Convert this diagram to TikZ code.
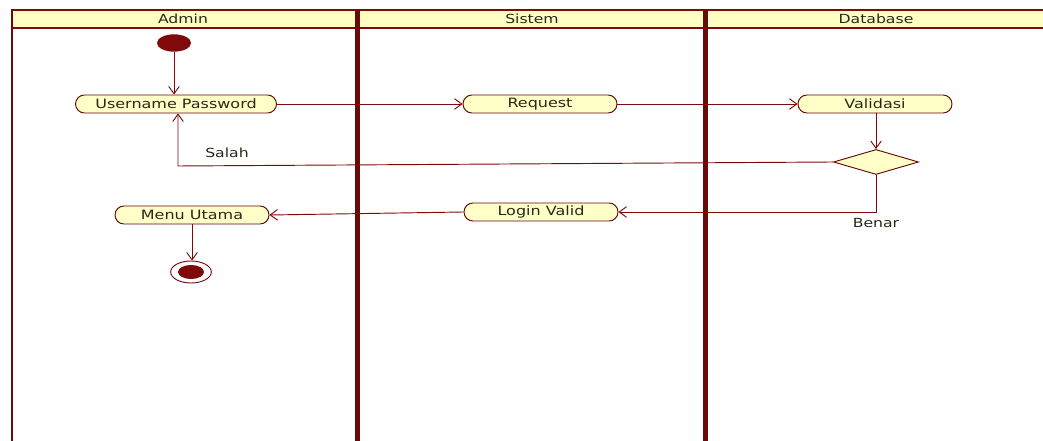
\documentclass[tikz,border=0pt]{standalone}
\usepackage{fontspec}
\newfontfamily\umlfont[FakeStretch=1.25]{DejaVu Sans}
\usetikzlibrary{shapes.misc,shapes.geometric,arrows.meta}
\definecolor{umlred}{RGB}{128,10,10}
\definecolor{sepred}{RGB}{105,10,10}
\definecolor{umlfill}{RGB}{255,255,200}
\definecolor{hdrfill}{RGB}{255,255,196}
\definecolor{umltext}{RGB}{40,40,25}
\begin{document}
\begin{tikzpicture}[x=0.75pt,y=-0.75pt,
  act/.style={rounded rectangle, draw=umlred!80!black, fill=umlfill, line width=0.7pt,
    minimum height=13.5pt, minimum width=115.5pt, inner sep=0pt, text=umltext,
    font=\umlfont\fontsize{9.6}{10}\selectfont},
  lbl/.style={font=\umlfont\fontsize{9.4}{10}\selectfont, inner sep=0pt, text=umltext},
  flow/.style={draw=umlred, line width=0.7pt, -{Straight Barb[length=5.5pt,width=8pt]}},
]
\useasboundingbox (0,0) rectangle (1043,441);
\clip (0,0) rectangle (1043,441);
\fill[white] (0,0) rectangle (1043,441);
% header
\draw[fill=hdrfill, draw=umlred, line width=1.2pt] (12,10) rectangle (1060,28);
\node[lbl] (hA) at (183,19) {Admin};
\node[lbl] (hS) at (532,19) {Sistem};
\node[lbl] (hD) at (876,19) {Database};
% swimlane borders
\draw[sepred, line width=1.5pt] (12,10) -- (12,441);
\draw[sepred, line width=3.75pt] (357,10) -- (357,441);
\draw[sepred, line width=3.75pt] (705,10) -- (705,441);
% nodes
\node[ellipse, fill=umlred, minimum width=25.5pt, minimum height=13pt, inner sep=0pt] (start) at (174,43) {};
\node[act, minimum width=150.75pt] (up) at (176,104) {Username Password};
\node[act] (rq) at (540,104) {Request};
\node[act] (va) at (875,104) {Validasi};
\node[diamond, draw=umlred!80!black, fill=umlfill, line width=0.7pt, minimum width=63.75pt, minimum height=18.75pt, inner sep=0pt] (d) at (876,162) {};
\node[act] (lv) at (541,212) {Login Valid};
\node[act] (mu) at (192,215) {Menu Utama};
\node[ellipse, draw=umlred, line width=0.7pt, fill=white, minimum width=30.5pt, minimum height=16.5pt, inner sep=0pt] (end) at (191,272) {};
\node[ellipse, fill=umlred, minimum width=19.5pt, minimum height=10.5pt, inner sep=0pt] (endin) at (end.center) {};
% labels
\node[lbl] (salah) at (227,153) {Salah};
\node[lbl] (benar) at (876,223) {Benar};
\coordinate (sc) at (178,166);
% flows
\draw[flow] (start) -- (up.north -| start);
\draw[flow] (up.east) -- (rq.west);
\draw[flow] (rq.east) -- (va.west);
\draw[flow] (va.south -| d.north) -- (d.north);
\draw[flow] (d.west) -- (sc) -- (sc |- up.south);
\draw[flow] (d.south) |- (lv.east);
\draw[flow] (lv.west) -- (mu.east);
\draw[flow] (mu.south) -- (end.north -| mu.south);
\end{tikzpicture}
\end{document}
